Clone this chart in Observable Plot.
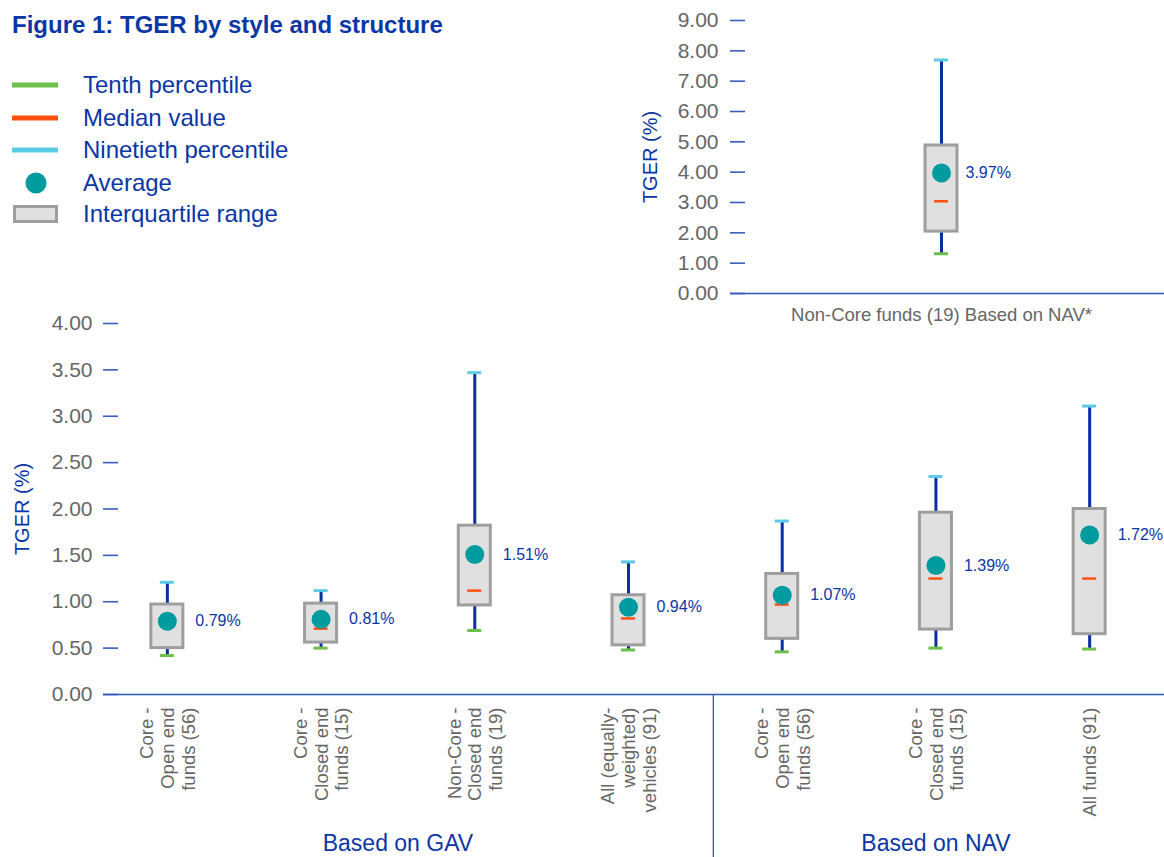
<!DOCTYPE html>
<html>
<head>
<meta charset="utf-8">
<script src="https://cdn.jsdelivr.net/npm/d3@7"></script>
<script src="https://cdn.jsdelivr.net/npm/@observablehq/plot@0.6"></script>
<style>
  html, body { margin: 0; padding: 0; background: #ffffff; }
  #page { position: relative; width: 1164px; height: 857px; overflow: hidden; font-family: "Liberation Sans", Arial, sans-serif; }
  #title { position: absolute; left: 12px; top: 10px; font-size: 24px; font-weight: bold; color: #0b36a6; line-height: 30px; white-space: nowrap; }
  .leg { position: absolute; left: 0; height: 30px; width: 400px; }
  .leg svg { position: absolute; left: 0; top: 0; }
  .leg span { position: absolute; left: 83px; top: 0; line-height: 30px; font-size: 24px; color: #0b36a6; white-space: nowrap; }
  #main { position: absolute; left: 0; top: 300px; }
  #inset { position: absolute; left: 600px; top: 0; }
</style>
</head>
<body>
<div id="page">
  <div id="title">Figure 1: TGER by style and structure</div>
  <div id="legend"></div>
  <div id="main"></div>
  <div id="inset"></div>
</div>
<script>
// ---------- data ----------
const categories = [
  "Core -\nOpen end\nfunds (56)",
  "Core -\nClosed end\nfunds (15)",
  "Non-Core -\nClosed end\nfunds (19)",
  "All (equally-\nweighted)\nvehicles (91)",
  "Core -\nOpen end\nfunds (56)",
  "Core -\nClosed end\nfunds (15)",
  "All funds (91)"
];
const groups = ["Based on GAV", "Based on GAV", "Based on GAV", "Based on GAV", "Based on NAV", "Based on NAV", "Based on NAV"];
const tenthPercentile = [0.42, 0.50, 0.69, 0.48, 0.46, 0.50, 0.49];
const lowerQuartile   = [0.50, 0.56, 0.96, 0.53, 0.60, 0.70, 0.65];
const medianValue     = [0.78, 0.71, 1.12, 0.82, 0.97, 1.25, 1.25];
const upperQuartile   = [0.97, 0.98, 1.82, 1.07, 1.30, 1.96, 2.00];
const ninetiethPercentile = [1.21, 1.12, 3.47, 1.43, 1.87, 2.35, 3.11];
const average         = [0.79, 0.81, 1.51, 0.94, 1.07, 1.39, 1.72];
const mainTicks = [0, 0.5, 1, 1.5, 2, 2.5, 3, 3.5, 4];

const insetCategory = ["Non-Core funds (19) Based on NAV*"];
const insetTenth = [1.31];
const insetLower = [2.04];
const insetMedian = [3.04];
const insetUpper = [4.88];
const insetNinetieth = [7.70];
const insetAverage = [3.97];
const insetTicks = [0, 1, 2, 3, 4, 5, 6, 7, 8, 9];

const legendItems = ["Tenth percentile", "Median value", "Ninetieth percentile", "Average", "Interquartile range"];

// ---------- styles ----------
const BLUE = "#0b36a6";
const WHISKER = "#0a2fa0";
const TICKBLUE = "#3a5cc0";
const GRAY_TEXT = "#666666";
const BOX_FILL = "#e0e0e0";
const BOX_STROKE = "#9e9e9e";
const TEAL = "#009b9e";
const ORANGE = "#ff5010";
const GREEN = "#6cc04a";
const CYAN = "#5ccbe8";
const FONT = "Liberation Sans, Arial, sans-serif";

// ---------- legend ----------
const legendSwatches = [
  `<svg width="70" height="30"><line x1="12" x2="58" y1="15" y2="15" stroke="${GREEN}" stroke-width="5"/></svg>`,
  `<svg width="70" height="30"><line x1="12" x2="58" y1="15" y2="15" stroke="${ORANGE}" stroke-width="5"/></svg>`,
  `<svg width="70" height="30"><line x1="12" x2="58" y1="15" y2="15" stroke="${CYAN}" stroke-width="5"/></svg>`,
  `<svg width="70" height="30"><circle cx="36" cy="15" r="10.5" fill="${TEAL}"/></svg>`,
  `<svg width="70" height="30"><rect x="14.5" y="7.5" width="42" height="15" fill="${BOX_FILL}" stroke="${BOX_STROKE}" stroke-width="3"/></svg>`
];
const legendY = [85, 118, 150, 183, 214];
const legendEl = document.getElementById("legend");
legendItems.forEach((label, i) => {
  const div = document.createElement("div");
  div.className = "leg";
  div.style.top = (legendY[i] - 15) + "px";
  div.innerHTML = legendSwatches[i] + `<span>${label}</span>`;
  legendEl.appendChild(div);
});

// ---------- main chart ----------
const rows = categories.map((c, i) => ({
  i, cat: c, group: groups[i],
  p10: tenthPercentile[i], q1: lowerQuartile[i], med: medianValue[i],
  q3: upperQuartile[i], p90: ninetiethPercentile[i], avg: average[i]
}));
const groupNames = [...new Set(groups)];
const groupRows = groupNames.map(g => ({group: g, x: d3.mean(rows.filter(r => r.group === g), r => r.i)}));
const dividers = groupNames.slice(1).map(g => {
  const first = rows.find(r => r.group === g).i;
  return first - 0.5;
});

function boxMarks(data) {
  return [
    Plot.ruleX(data, {x: "i", y1: "p10", y2: "p90", stroke: WHISKER, strokeWidth: 3}),
    Plot.rect(data, {x1: "i", x2: "i", y1: "q1", y2: "q3", insetLeft: -16, insetRight: -16, fill: BOX_FILL, stroke: BOX_STROKE, strokeWidth: 3}),
    Plot.ruleY(data, {y: "med", x1: "i", x2: "i", insetLeft: -7, insetRight: -7, stroke: ORANGE, strokeWidth: 2.5}),
    Plot.ruleY(data, {y: "p10", x1: "i", x2: "i", insetLeft: -7, insetRight: -7, stroke: GREEN, strokeWidth: 3}),
    Plot.ruleY(data, {y: "p90", x1: "i", x2: "i", insetLeft: -7, insetRight: -7, stroke: CYAN, strokeWidth: 3}),
    Plot.dot(data, {x: "i", y: "avg", r: 9.5, fill: TEAL, stroke: null}),
    Plot.text(data, {x: "i", y: "avg", text: d => d.avg.toFixed(2) + "%", dx: 28, textAnchor: "start", fill: BLUE, fontSize: 16})
  ];
}

const main = Plot.plot({
  width: 1164,
  height: 557,
  marginLeft: 118,
  marginRight: 0,
  marginTop: 23,
  marginBottom: 163,
  style: {fontFamily: FONT, background: "transparent", overflow: "visible"},
  x: {domain: [-0.5, categories.length - 0.5], range: [90, 1166], axis: null},
  y: {domain: [0, 4], axis: null},
  marks: [
    Plot.axisY({ticks: mainTicks, tickFormat: d => d.toFixed(2), tickSize: 15, tickPadding: 11,
      stroke: TICKBLUE, strokeWidth: 1.6, color: GRAY_TEXT, fill: GRAY_TEXT, fontSize: 21, label: null}),
    Plot.text(["TGER (%)"], {frameAnchor: "left", dx: -96, rotate: -90, textAnchor: "middle", fill: BLUE, fontSize: 20}),
    Plot.ruleY([0], {stroke: "#2a55c0", strokeWidth: 1.6, insetLeft: -15}),
    Plot.ruleX(dividers, {x: d => d, y1: 0, y2: 0, dx: 8, insetBottom: -163, stroke: "#2a55c0", strokeWidth: 1.3}),
    ...boxMarks(rows),
    Plot.text(rows, {x: "i", text: "cat", frameAnchor: "bottom", dy: 13, rotate: -90, textAnchor: "end",
      lineAnchor: "middle", lineHeight: 1.12, fill: GRAY_TEXT, fontSize: 18.5}),
    Plot.text(groupRows, {x: "x", text: "group", frameAnchor: "bottom", dy: 156, fill: BLUE, fontSize: 23})
  ]
});
document.getElementById("main").appendChild(main);

// ---------- inset chart ----------
const insetRows = insetCategory.map((c, i) => ({
  i, cat: c,
  p10: insetTenth[i], q1: insetLower[i], med: insetMedian[i],
  q3: insetUpper[i], p90: insetNinetieth[i], avg: insetAverage[i]
}));

const inset = Plot.plot({
  width: 564,
  height: 340,
  marginLeft: 145,
  marginRight: 0,
  marginTop: 20,
  marginBottom: 47,
  style: {fontFamily: FONT, background: "transparent", overflow: "visible"},
  x: {domain: [-1, 1], range: [130, 552], axis: null},
  y: {domain: [0, 9], axis: null},
  marks: [
    Plot.axisY({ticks: insetTicks, tickFormat: d => d.toFixed(2), tickSize: 15, tickPadding: 12,
      stroke: TICKBLUE, strokeWidth: 1.6, color: GRAY_TEXT, fill: GRAY_TEXT, fontSize: 21, label: null}),
    Plot.text(["TGER (%)"], {frameAnchor: "left", dx: -95, rotate: -90, textAnchor: "middle", fill: BLUE, fontSize: 20}),
    Plot.ruleY([0], {stroke: "#2a55c0", strokeWidth: 1.6, insetLeft: -15}),
    ...boxMarks(insetRows).slice(0, 6),
    Plot.text(insetRows, {x: "i", y: "avg", text: d => d.avg.toFixed(2) + "%", dx: 24, textAnchor: "start", fill: BLUE, fontSize: 16}),
    Plot.text(insetRows, {x: "i", text: "cat", frameAnchor: "bottom", dy: 27, fill: GRAY_TEXT, fontSize: 18.5})
  ]
});
document.getElementById("inset").appendChild(inset);
</script>
</body>
</html>
